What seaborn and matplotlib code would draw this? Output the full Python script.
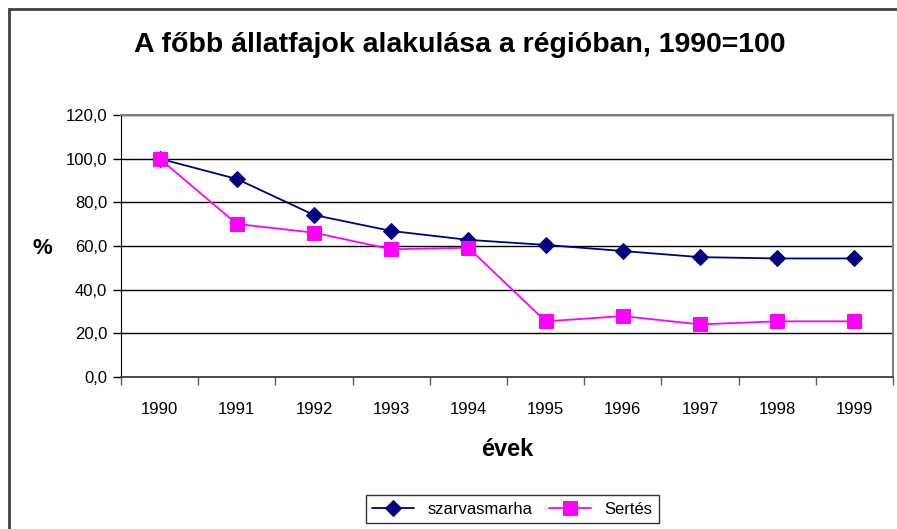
import matplotlib
matplotlib.use("Agg")
import matplotlib.pyplot as plt
from matplotlib.patches import Rectangle
from matplotlib.ticker import FuncFormatter, MultipleLocator
import seaborn as sns
import pandas as pd

years = [1990, 1991, 1992, 1993, 1994, 1995, 1996, 1997, 1998, 1999]
szarvasmarha = [100.0, 90.7, 74.2, 66.9, 62.8, 60.5, 57.7, 54.9, 54.3, 54.3]
sertes = [100.0, 70.1, 66.1, 58.5, 59.2, 25.5, 27.9, 24.1, 25.5, 25.5]

df = pd.DataFrame({"év": years, "szarvasmarha": szarvasmarha, "Sertés": sertes})

sns.set_style("white")
plt.rcParams["font.family"] = ["Liberation Sans", "DejaVu Sans"]
plt.rcParams["text.color"] = "black"
plt.rcParams["xtick.color"] = "black"
plt.rcParams["ytick.color"] = "black"

fig = plt.figure(figsize=(8.97, 5.29), dpi=100)
ax = fig.add_axes([121 / 897, 1 - 377 / 529, (893 - 121) / 897, (377 - 115) / 529])

sns.lineplot(data=df, x="év", y="szarvasmarha", ax=ax, color="#000080",
             marker="D", markersize=8, markeredgecolor="#000080",
             linewidth=1.3, label="szarvasmarha")
sns.lineplot(data=df, x="év", y="Sertés", ax=ax, color="#FF00FF",
             marker="s", markersize=10, markeredgecolor="#FF00FF",
             linewidth=1.3, label="Sertés")

ax.set_xlim(1989.5, 1999.5)
ax.set_ylim(0, 120)
ax.yaxis.set_major_locator(MultipleLocator(20))
ax.yaxis.set_major_formatter(FuncFormatter(lambda v, p: f"{v:.1f}".replace(".", ",")))
ax.grid(axis="y", color="black", linewidth=1)
ax.set_axisbelow(True)

ax.set_xticks(years)
ax.set_xticklabels([str(y) for y in years])
ax.set_xticks([y + 0.5 for y in [1989] + years], minor=True)
ax.tick_params(axis="x", which="major", length=0, pad=18, labelsize=12)
ax.tick_params(axis="x", which="minor", length=6, width=1, color="#606060", direction="out")
ax.tick_params(axis="y", length=6, width=1, color="black", direction="out", pad=4, labelsize=12)
ax.tick_params(bottom=True, left=True, which="both")

for side in ["top", "right"]:
    ax.spines[side].set_color("#808080")
    ax.spines[side].set_linewidth(1.5)
ax.spines["left"].set_color("black")
ax.spines["bottom"].set_color("#404040")
ax.spines["bottom"].set_linewidth(1.3)

ax.set_xlabel("")
ax.set_ylabel("")
fig.text(42 / 897, 1 - 249 / 529, "%", fontsize=16, fontweight="bold", ha="center", va="center")
fig.text(507 / 897, 1 - 449 / 529, "évek", fontsize=17, fontweight="bold", ha="center", va="center")
fig.text(460 / 897, 1 - 45 / 529, "A főbb állatfajok alakulása a régióban, 1990=100",
         fontsize=20.5, fontweight="bold", ha="center", va="center")

ax.legend_.remove()
h, l = ax.get_legend_handles_labels()
leg = fig.legend(h, l, loc="center", bbox_to_anchor=(512 / 897, 1 - 509 / 529), ncol=2,
                 fontsize=12, frameon=True, fancybox=False, edgecolor="black",
                 handlelength=2.5, columnspacing=1.0, borderpad=0.4)
leg.get_frame().set_linewidth(1)

fig.patches.append(Rectangle((9 / 897, -0.2), 1.5, 1.2 - 9 / 529, transform=fig.transFigure,
                             fill=False, edgecolor="#404040", linewidth=2))

fig.savefig("out.png", dpi=100)
